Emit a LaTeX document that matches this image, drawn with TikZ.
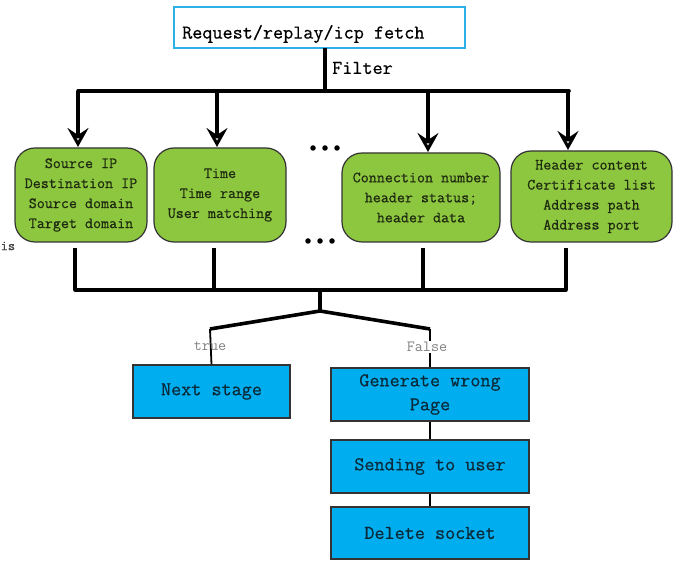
\documentclass[tikz,border=0pt]{standalone}
\usepackage{fontspec}
\setmonofont[FakeBold=0.6]{Latin Modern Mono}
\usetikzlibrary{arrows.meta}
\definecolor{topframe}{HTML}{2CB0E8}
\definecolor{leafgreen}{HTML}{8DC63F}
\definecolor{stepblue}{HTML}{00AEEF}
\definecolor{edgegray}{HTML}{333333}
\definecolor{inkgreen}{HTML}{1E2A10}
\definecolor{inkblue}{HTML}{0A2A3A}
\begin{document}
\begin{tikzpicture}[x=1pt,y=-1pt,
  font=\ttfamily,
  bus/.style={line width=3.6pt},
  thin link/.style={line width=1.8pt},
  down/.style={bus,-{Stealth[open,length=19pt,width=21pt,inset=7pt,line width=3pt]}},
  greenbox/.style={draw=edgegray,line width=1.2pt,fill=leafgreen,rounded corners=20pt,
    align=center,text=inkgreen,font=\ttfamily\fontsize{15.6}{20}\selectfont,inner sep=0pt},
  bluebox/.style={draw=edgegray,line width=1.2pt,fill=stepblue,align=center,text=inkblue,
    font=\ttfamily\fontsize{19.6}{24}\selectfont,inner sep=0pt},
  tag/.style={font=\fontspec{Latin Modern Mono}\fontsize{15.6}{16}\selectfont,text=gray,inner sep=1pt},
  bigtext/.style={font=\ttfamily\fontsize{19.6}{22}\selectfont,anchor=west,inner sep=0pt},
  dotrow/.style={fill=black,circle,inner sep=0pt,minimum size=5.5pt}
]
\useasboundingbox (0,0) rectangle (678,561);

% request source
\node[draw=topframe,line width=2pt,fill=white,minimum width=291pt,minimum height=41pt,
  inner sep=0pt] (req) at (319.5,27.5) {};
\node[bigtext] (reqtext) at (182,34) {Request/replay/icp fetch};

% filter bus
\coordinate (fork) at (325,91);
\draw[bus] (325,48) -- (fork);
\node[bigtext] (filter) at (332,68) {Filter};
\coordinate (busL) at (78,91);
\coordinate (busR) at (569,91);
\draw[bus,line cap=round] (busL) -- (busR);

% filter criteria
\node[greenbox,minimum width=132pt,minimum height=94pt] (c1) at (81,195)
  {Source IP\\Destination IP\\Source domain\\Target domain};
\node[greenbox,minimum width=132pt,minimum height=94pt] (c2) at (220,195)
  {Time\\Time range\\User matching};
\node[greenbox,minimum width=158pt,minimum height=89pt] (c3) at (421,197.5)
  {Connection number\\header status;\\header data};
\node[greenbox,minimum width=161pt,minimum height=91pt] (c4) at (591.5,196.5)
  {Header content\\Certificate list\\Address path\\Address port};

\draw[down] (78,91) -- (78,147);
\draw[down] (217,91) -- (217,147);
\draw[down] (428,91) -- (428,152);
\draw[down] (568,91) -- (568,150);

% elided criteria
\foreach \x in {313,325,337} \node[dotrow] at (\x,148) {};
\foreach \x in {308,320,332} \node[dotrow] at (\x,241) {};

\node[font=\ttfamily\fontsize{14}{16}\selectfont,anchor=west,inner sep=0pt,text=darkgray] (cut) at (0.5,246) {is};

% merge bus
\coordinate (m1) at (75,290);
\coordinate (m4) at (566,290);
\draw[bus] (75,248) -- (m1);
\draw[bus] (214,248) -- (214,290);
\draw[bus] (423,248) -- (423,290);
\draw[bus] (566,248) -- (m4);
\draw[bus,line cap=round] (m1) -- (m4);

\coordinate (join) at (320,290);
\coordinate (split) at (320,311);
\coordinate (yes) at (210,329);
\coordinate (no) at (430,329);
\draw[bus] (join) -- (split);
\draw[bus,line join=round] (yes) -- (split) -- (no);

% outcomes
\node[bluebox,minimum width=157pt,minimum height=53pt] (next) at (211.5,391.5) {Next stage};
\node[bluebox,minimum width=198pt,minimum height=53pt] (gen) at (430,394.5) {Generate wrong\\Page};
\node[bluebox,minimum width=198pt,minimum height=53pt] (send) at (430,466.5) {Sending to user};
\node[bluebox,minimum width=198pt,minimum height=52pt] (del) at (430,533) {Delete socket};

\draw[thin link] (yes) -- (next.north);
\node[tag] (truetag) at (210,346) {true};
\draw[thin link] (no) -- (gen.north);
\node[tag,fill=white] (falsetag) at (427,347) {False};

\draw[thin link] (gen) -- (send);
\draw[thin link] (send) -- (del);
\end{tikzpicture}
\end{document}
